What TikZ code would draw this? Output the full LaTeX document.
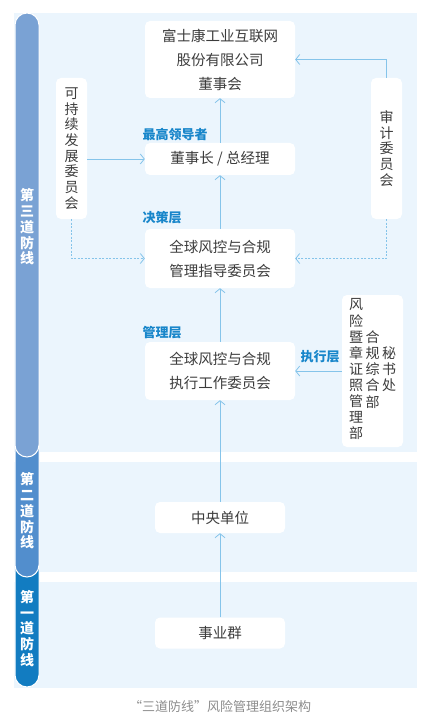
\documentclass[tikz,border=0pt]{standalone}
\usepackage{fontspec}
\usetikzlibrary{positioning,arrows.meta}
\newfontfamily\cjk{Noto Sans CJK SC}

\definecolor{panel-bg}{RGB}{235,245,253}
\definecolor{bar-third}{RGB}{122,162,212}
\definecolor{bar-second}{RGB}{82,142,205}
\definecolor{bar-first}{RGB}{18,124,193}
\definecolor{ink-gray}{RGB}{60,60,60}
\definecolor{label-blue}{RGB}{24,134,202}
\definecolor{flow-blue}{RGB}{133,196,234}
\definecolor{caption-gray}{RGB}{140,140,140}

\newcommand{\vstack}[1]{\begin{tabular}[c]{@{}c@{}}#1\end{tabular}}

\begin{document}
\begin{tikzpicture}[
  x=1pt, y=-1pt,
  every node/.style={font=\cjk\fontsize{14.5}{24}\selectfont, text=ink-gray},
  org-box/.style={fill=white, rounded corners=5pt, inner sep=0pt, align=center},
  wide-box/.style={org-box, minimum width=150pt},
  low-box/.style={org-box, minimum width=130pt, minimum height=31pt},
  side-box/.style={org-box, minimum width=31pt, minimum height=141pt,
    font=\cjk\fontsize{14}{15.7}\selectfont},
  layer-label/.style={anchor=west, text=label-blue,
    font=\cjk\bfseries\fontsize{13}{15}\selectfont},
  line-label/.style={text=white, align=center,
    font=\cjk\bfseries\fontsize{14}{15.7}\selectfont},
  flow-arrow/.style={draw=flow-blue, line width=0.8pt,
    -{Straight Barb[length=4pt,width=10pt]}},
  dash-flow/.style={flow-arrow, dash pattern=on 2pt off 1.5pt},
  ]

  \useasboundingbox (0,0) rectangle (428,722);

  % background bands
  \fill[panel-bg] (14,13) rectangle (417,452);
  \fill[panel-bg] (14,462) rectangle (417,572);
  \fill[panel-bg] (14,582) rectangle (417,688);

  % side bars, lowest first
  \filldraw[fill=bar-first, draw=white, line width=1pt, rounded corners=12pt]
    (15,550) rectangle (39,687);
  \filldraw[fill=bar-second, draw=white, line width=1pt, rounded corners=12pt]
    (15,430) rectangle (39,577);
  \filldraw[fill=bar-third, draw=white, line width=1pt, rounded corners=12pt]
    (15,13) rectangle (39,457);

  \node[line-label] (third-line) at (27,227) {第\\三\\道\\防\\线};
  \node[line-label] (second-line) at (27,511) {第\\二\\道\\防\\线};
  \node[line-label] (first-line) at (27,628.5) {第\\一\\道\\防\\线};

  % main column
  \node[wide-box, minimum height=77pt] (board-box) at (220,59.5)
    {富士康工业互联网\\股份有限公司\\董事会};
  \node[wide-box, minimum height=32pt] (chair-box) at (220,159) {董事长 / 总经理};
  \node[wide-box, minimum height=59pt] (guide-box) at (220,258.5)
    {全球风控与合规\\管理指导委员会};
  \node[wide-box, minimum height=58pt] (exec-box) at (220,371)
    {全球风控与合规\\执行工作委员会};
  \node[low-box] (central-box) at (220,517.5) {中央单位};
  \node[low-box] (business-box) at (220,633) {事业群};

  % committees at the sides
  \node[side-box] (sustain-box) at (71.5,148.5) {可\\持\\续\\发\\展\\委\\员\\会};
  \node[side-box] (audit-box) at (386.5,148.5) {审\\计\\委\\员\\会};
  \node[org-box, minimum width=61pt, minimum height=152pt,
    font=\cjk\fontsize{14}{15.1}\selectfont] (secretariat-box) at (372.5,371)
    {\vstack{风\\险\\暨\\章\\证\\照\\管\\理\\部}\hspace{2.5pt}%
     \vstack{合\\规\\综\\合\\部}\hspace{2.5pt}%
     \vstack{秘\\书\\处}};

  \node[layer-label] (leader-label) at (139,135) {最高领导者};
  \node[layer-label] (decision-label) at (139,218) {决策层};
  \node[layer-label] (manage-label) at (139,333) {管理层};
  \node[layer-label, anchor=center] (execute-label) at (320,357) {执行层};

  \draw[flow-arrow] (chair-box) -- (board-box);
  \draw[flow-arrow] (guide-box) -- (chair-box);
  \draw[flow-arrow] (exec-box) -- (guide-box);
  \draw[flow-arrow] (central-box) -- (exec-box);
  \draw[flow-arrow] (business-box) -- (central-box);
  \draw[flow-arrow] (sustain-box.east |- chair-box.west) -- (chair-box.west);
  \draw[flow-arrow] (audit-box.north) |- (board-box.east);
  \draw[dash-flow] (sustain-box.south) |- (guide-box.west);
  \draw[dash-flow] (audit-box.south) |- (guide-box.east);
  \draw[flow-arrow] (secretariat-box) -- (exec-box);

  \node[text=caption-gray, font=\cjk\fontsize{13}{15}\selectfont] (caption-text)
    at (220,707) {“三道防线”风险管理组织架构};

\end{tikzpicture}
\end{document}
